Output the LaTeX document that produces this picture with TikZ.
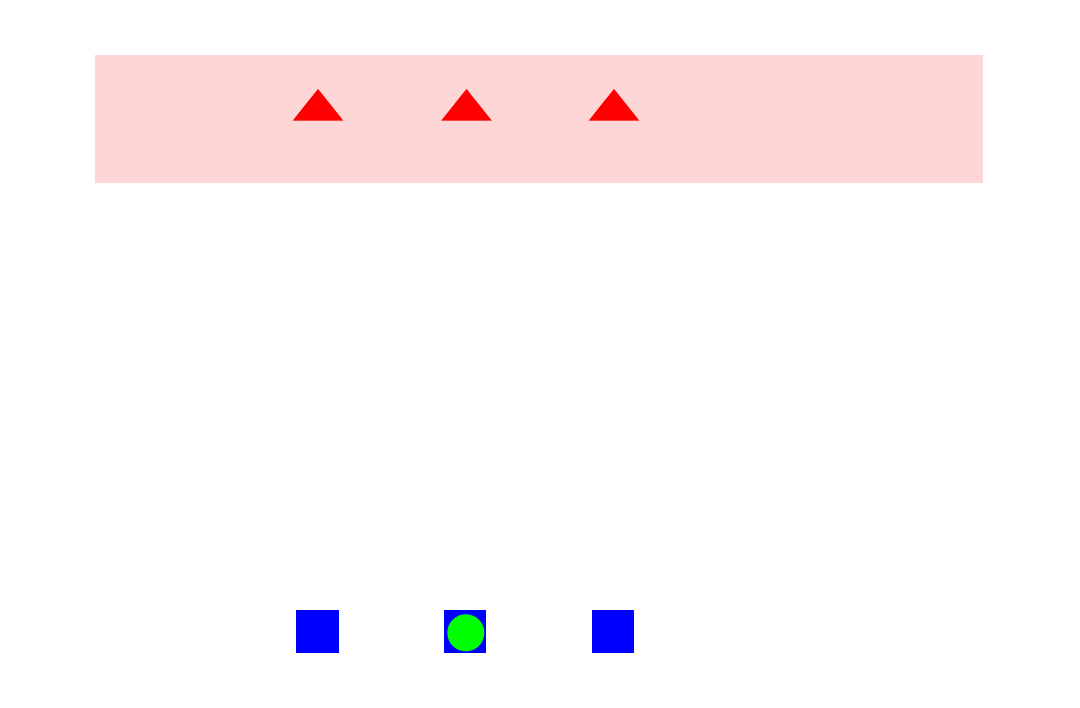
\documentclass[tikz,border=0pt]{standalone}
\begin{document}
\begin{tikzpicture}[x=1pt,y=-1pt,
  tri/.style={fill=red},
  sq/.style={fill=blue},
  dot/.style={fill=green}]
\useasboundingbox (0,0) rectangle (1080,708);
\fill[white] (0,0) rectangle (1080,708);
\fill[red!16] (95,55) rectangle (983,183);
\foreach \c/\n in {318/t1,466.5/t2,614/t3}{
  \fill[tri] (\c-25.3,120.7) -- (\c,89) -- (\c+25.3,120.7) -- cycle;
}
\fill[sq] (296,610) rectangle (339,652.7);
\fill[sq] (444,610) rectangle (486,652.7);
\fill[sq] (592,610) rectangle (634,652.7);
\fill[dot] (465.8,632.8) circle (18.5);
\end{tikzpicture}
\end{document}
